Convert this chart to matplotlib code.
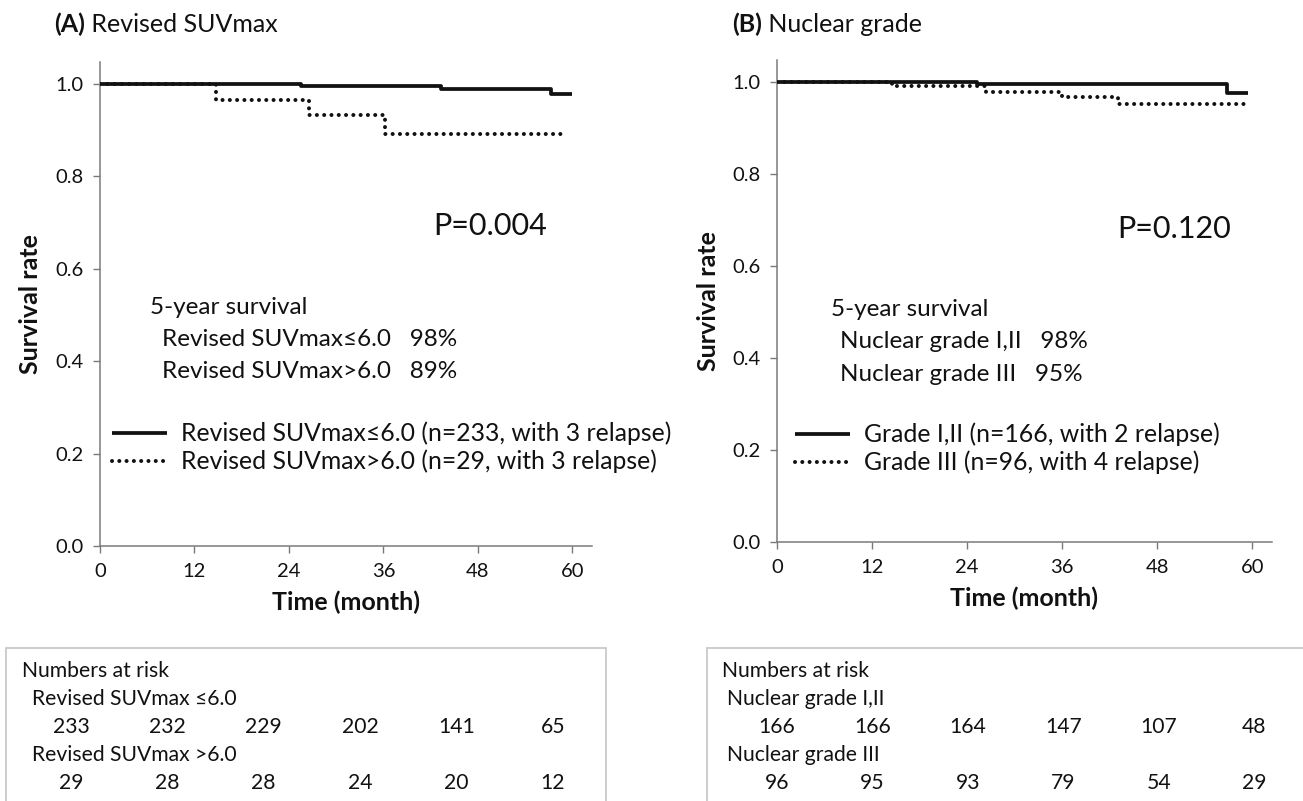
import matplotlib
matplotlib.use('Agg')
import matplotlib.pyplot as plt
from matplotlib.patches import Rectangle

plt.rcParams['font.family'] = ['Lato', 'DejaVu Sans']

# ---------------- data ----------------
month_ticks = [0, 12, 24, 36, 48, 60]
surv_ticks = [0.0, 0.2, 0.4, 0.6, 0.8, 1.0]

a_low_time = [0, 25.5, 43.3, 57.3, 60.0]
a_low_surv = [1.0, 0.996, 0.990, 0.978, 0.978]
a_high_time = [0, 14.7, 26.6, 36.2, 59.1]
a_high_surv = [1.0, 0.966, 0.932, 0.892, 0.892]

b_low_time = [0, 25.3, 56.8, 59.5]
b_low_surv = [1.0, 0.995, 0.977, 0.977]
b_high_time = [0, 14.5, 26.4, 36.0, 43.0, 59.3]
b_high_surv = [1.0, 0.992, 0.978, 0.967, 0.953, 0.953]

a_title = ['(A)', ' Revised SUVmax']
b_title = ['(B)', ' Nuclear grade']
a_pvalue = 'P=0.004'
b_pvalue = 'P=0.120'
a_five_year = ['5-year survival', 'Revised SUVmax≤6.0   98%', 'Revised SUVmax>6.0   89%']
b_five_year = ['5-year survival', 'Nuclear grade I,II   98%', 'Nuclear grade III   95%']
a_legend = ['Revised SUVmax≤6.0 (n=233, with 3 relapse)',
            'Revised SUVmax>6.0 (n=29, with 3 relapse)']
b_legend = ['Grade I,II (n=166, with 2 relapse)',
            'Grade III (n=96, with 4 relapse)']

risk_title = 'Numbers at risk'
a_risk_groups = ['Revised SUVmax ≤6.0', 'Revised SUVmax >6.0']
a_risk_low = [233, 232, 229, 202, 141, 65]
a_risk_high = [29, 28, 28, 24, 20, 12]
b_risk_groups = ['Nuclear grade I,II', 'Nuclear grade III']
b_risk_low = [166, 166, 164, 147, 107, 48]
b_risk_high = [96, 95, 93, 79, 54, 29]

xlabel = 'Time (month)'
ylabel = 'Survival rate'

# ---------------- figure ----------------
W, H = 1303, 801
fig = plt.figure(figsize=(W / 100, H / 100), dpi=100)

def px_rect(x0, x1, ytop, ybot):
    return [x0 / W, 1 - ybot / H, (x1 - x0) / W, (ybot - ytop) / H]

INK = '#111111'
AXC = '#7a7a7a'


def km_panel(rect, ylim_top, low_t, low_s, high_t, high_s, title, title_px,
             pval, ppos, five, fpos, legend_labels, legpos, ylab_x):
    ax = fig.add_axes(rect)
    ax.step(low_t, low_s, where='post', color=INK, lw=2.7, solid_capstyle='butt',
            label=legend_labels[0], zorder=3)
    ax.step(high_t, high_s, where='post', color=INK, lw=2.9,
            linestyle=(0, (0.01, 1.8)), dash_capstyle='round',
            label=legend_labels[1], zorder=2)
    ax.set_xlim(0, 62.5)
    ax.set_ylim(0, ylim_top)
    ax.set_xticks(month_ticks)
    ax.set_yticks(surv_ticks)
    ax.set_yticklabels([f'{v:.1f}' for v in surv_ticks])
    for s in ['top', 'right']:
        ax.spines[s].set_visible(False)
    for s in ['left', 'bottom']:
        ax.spines[s].set_color(AXC)
        ax.spines[s].set_linewidth(1.1)
    ax.tick_params(direction='out', length=5, width=1, color=AXC,
                   labelsize=14.5, labelcolor=INK, pad=7)
    ax.set_xlabel(xlabel, fontsize=18, fontweight='bold', color=INK)
    ax.xaxis.set_label_coords(0.5, -0.116)
    ax.xaxis.label.set_va('center')
    ax.set_ylabel(ylabel, fontsize=18, fontweight='bold', color=INK)
    ax.yaxis.set_label_coords(ylab_x, 0.5)
    ax.yaxis.label.set_va('center')

    # p value
    ax.text(ppos[0], ppos[1], pval, fontsize=22, color=INK, ha='left', va='center')
    # 5-year survival
    for (x, y), s in zip(fpos, five):
        ax.text(x, y, s, fontsize=17.5, color=INK, ha='left', va='center')

    leg = ax.legend(loc='center left', bbox_to_anchor=legpos, frameon=False,
                    fontsize=17.8, handlelength=2.22, handletextpad=0.57,
                    labelspacing=0.17, borderpad=0, borderaxespad=0)
    for t in leg.get_texts():
        t.set_color(INK)

    # title
    t1 = fig.text(title_px[0] / W, 1 - title_px[1] / H, title[0], fontsize=18,
                  fontweight='bold', color=INK, ha='left', va='center')
    ax.annotate(title[1], xy=(1, 0), xycoords=t1, fontsize=18, color=INK,
                ha='left', va='bottom', annotation_clip=False)
    return ax


km_panel(px_rect(100, 592, 62, 546), (546 - 62) / 462,
         a_low_time, a_low_surv, a_high_time, a_high_surv,
         a_title, (54, 24), a_pvalue, (42.3, 0.693), a_five_year,
         [(6.35, 0.517), (7.9, 0.446), (7.9, 0.377)], a_legend,
         (0.0244, 0.2035), -0.142)

km_panel(px_rect(777, 1272, 60, 542), (542 - 60) / 460,
         b_low_time, b_low_surv, b_high_time, b_high_surv,
         b_title, (732, 24), b_pvalue, (42.9, 0.680), b_five_year,
         [(6.8, 0.505), (8.0, 0.435), (8.0, 0.365)], b_legend,
         (0.036, 0.194), -0.139)


# ---------------- risk tables ----------------
def risk_table(x0, x1, col0, col_step, groups, low, high, title_fx, group_fx):
    ax = fig.add_axes(px_rect(x0, x1, 648, H))
    ax.set_axis_off()
    # map time -> pixel: col0 + t * col_step
    ax.set_xlim((x0 - col0) / col_step, (x1 - col0) / col_step)
    # rows: row r at pixel 671 + 28 r
    ax.set_ylim((H - 671) / 28, (648 - 671) / 28)
    ax.add_patch(Rectangle((0, -0.2), 1, 1.2, transform=ax.transAxes, fill=False,
                           edgecolor='#c9c9c9', lw=1.3, clip_on=False))
    tr = ax.get_yaxis_transform()
    fs = 15.2
    ax.text(title_fx, 0, risk_title, transform=tr, fontsize=fs, color=INK,
            ha='left', va='center')
    ax.text(group_fx, 1, groups[0], transform=tr, fontsize=fs, color=INK,
            ha='left', va='center')
    ax.text(group_fx, 3, groups[1], transform=tr, fontsize=fs, color=INK,
            ha='left', va='center')
    for t, v in zip(month_ticks, low):
        ax.text(t, 2, str(v), fontsize=fs, color=INK, ha='center', va='center')
    for t, v in zip(month_ticks, high):
        ax.text(t, 4, str(v), fontsize=fs, color=INK, ha='center', va='center')


risk_table(6, 606, 71, 8.03, a_risk_groups, a_risk_low, a_risk_high, 0.027, 0.043)
risk_table(707, 1320, 777, 7.95, b_risk_groups, b_risk_low, b_risk_high, 0.025, 0.033)

fig.savefig('out.png', dpi=100)
